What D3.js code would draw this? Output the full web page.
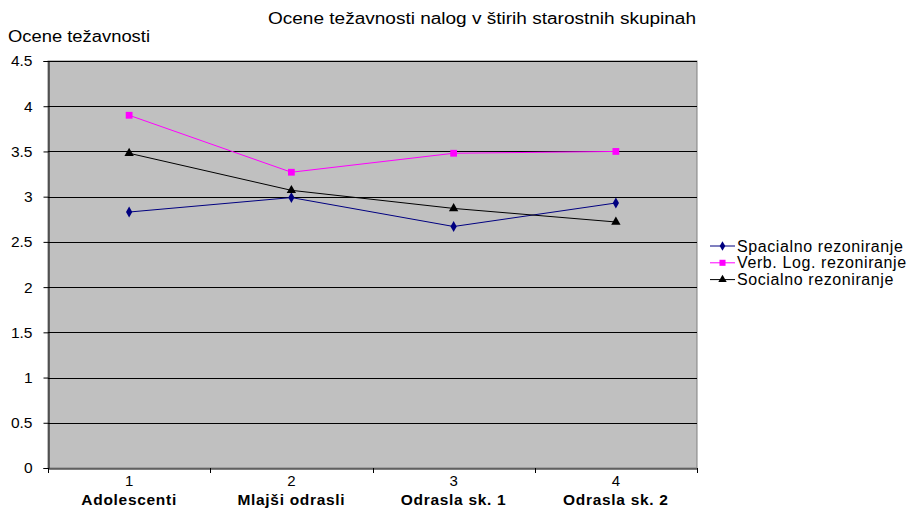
<!DOCTYPE html>
<html><head><meta charset="utf-8">
<script src="https://cdn.jsdelivr.net/npm/d3@7"></script>
<style>body{margin:0;background:#fff}svg{display:block;font-family:"Liberation Sans",Arial,sans-serif}</style>
</head><body><svg id="c" width="908" height="509"></svg>
<script>
const categories = ["1","2","3","4"];
const categoryNames = ["Adolescenti","Mlajši odrasli","Odrasla sk. 1","Odrasla sk. 2"];
const spacialno = [2.83, 2.99, 2.67, 2.93];
const verbLog = [3.90, 3.27, 3.48, 3.50];
const socialno = [3.48, 3.07, 2.87, 2.72];
const yTicks = [0,0.5,1,1.5,2,2.5,3,3.5,4,4.5];
const seriesNames = ["Spacialno rezoniranje","Verb. Log. rezoniranje","Socialno rezoniranje"];

const svg = d3.select("#c");
const L=48, R=697, T=61, B=468;
const x = d3.scaleBand().domain(categories).range([L,R]);
const y = d3.scaleLinear().domain([0,4.5]).range([B,T]);

svg.append("rect").attr("x",L).attr("y",T).attr("width",R-L).attr("height",B-T).attr("fill","#c0c0c0").attr("stroke","#808080");
svg.append("g").selectAll("line").data(yTicks.filter(d=>d>0)).join("line")
  .attr("x1",L).attr("x2",R).attr("y1",d=>Math.round(y(d))+0.5).attr("y2",d=>Math.round(y(d))+0.5)
  .attr("stroke","#000").attr("stroke-width",1);

const yAxis = svg.append("g").attr("transform",`translate(${L+0.5},0)`)
  .call(d3.axisLeft(y).tickValues(yTicks).tickSize(5).tickPadding(11).tickFormat(d=>String(d)));
yAxis.select(".domain").attr("stroke","#000");
yAxis.selectAll("text").attr("font-size",15.5).attr("fill","#000").attr("font-family","Liberation Sans, Arial");
yAxis.selectAll(".tick line").attr("stroke","#000");

const xAxis = svg.append("g").attr("transform",`translate(0,${B+0.5})`)
  .call(d3.axisBottom(x).tickSize(0).tickPadding(0));
xAxis.select(".domain").attr("stroke","#000");
xAxis.selectAll("text").attr("font-size",15).attr("fill","#000").attr("dy",null).attr("y",17.5);
// boundary ticks
const bounds = categories.map(c=>x(c)).concat([R]);
svg.append("g").selectAll("line").data(bounds).join("line")
  .attr("x1",d=>Math.round(d)+0.5).attr("x2",d=>Math.round(d)+0.5).attr("y1",B).attr("y2",B+5).attr("stroke","#000");
svg.append("g").selectAll("text").data(categories).join("text")
  .attr("x",(d,i)=>x(d)+x.bandwidth()/2).attr("y",505).attr("text-anchor","middle")
  .attr("font-size",15.5).attr("font-weight","bold").attr("letter-spacing",0.7).text((d,i)=>categoryNames[i]);

const series = [
  {name:seriesNames[0], values:spacialno, color:"#000080", sym:d3.symbolDiamond, size:34},
  {name:seriesNames[1], values:verbLog, color:"#ff00ff", sym:d3.symbolSquare, size:46},
  {name:seriesNames[2], values:socialno, color:"#000000", sym:d3.symbolTriangle, size:38}
];
const cx = c => x(c)+x.bandwidth()/2;
const line = d3.line().x((d,i)=>cx(categories[i])).y(d=>y(d));
series.forEach(s=>{
  svg.append("path").datum(s.values).attr("d",line).attr("fill","none").attr("stroke",s.color).attr("stroke-width",1);
  svg.append("g").selectAll("path").data(s.values).join("path")
    .attr("transform",(d,i)=>`translate(${cx(categories[i])},${y(d)})`)
    .attr("d",d3.symbol().type(s.sym).size(s.size)).attr("fill",s.color);
});

svg.append("text").attr("x",482).attr("y",24).attr("text-anchor","middle").attr("font-size",16)
  .attr("textLength",428).attr("lengthAdjust","spacingAndGlyphs")
  .text("Ocene težavnosti nalog v štirih starostnih skupinah");
svg.append("text").attr("x",8).attr("y",42).attr("font-size",16).attr("textLength",142).attr("lengthAdjust","spacingAndGlyphs").text("Ocene težavnosti");

const lg = svg.append("g");
series.forEach((s,i)=>{
  const yy = 246 + i*16.8;
  lg.append("line").attr("x1",710).attr("x2",735).attr("y1",yy).attr("y2",yy).attr("stroke",s.color);
  lg.append("path").attr("transform",`translate(722.5,${yy})`).attr("d",d3.symbol().type(s.sym).size(s.size*0.8)).attr("fill",s.color);
  lg.append("text").attr("x",737).attr("y",yy+5.5).attr("font-size",16).attr("letter-spacing",0.6).text(s.name);
});
</script></body></html>
